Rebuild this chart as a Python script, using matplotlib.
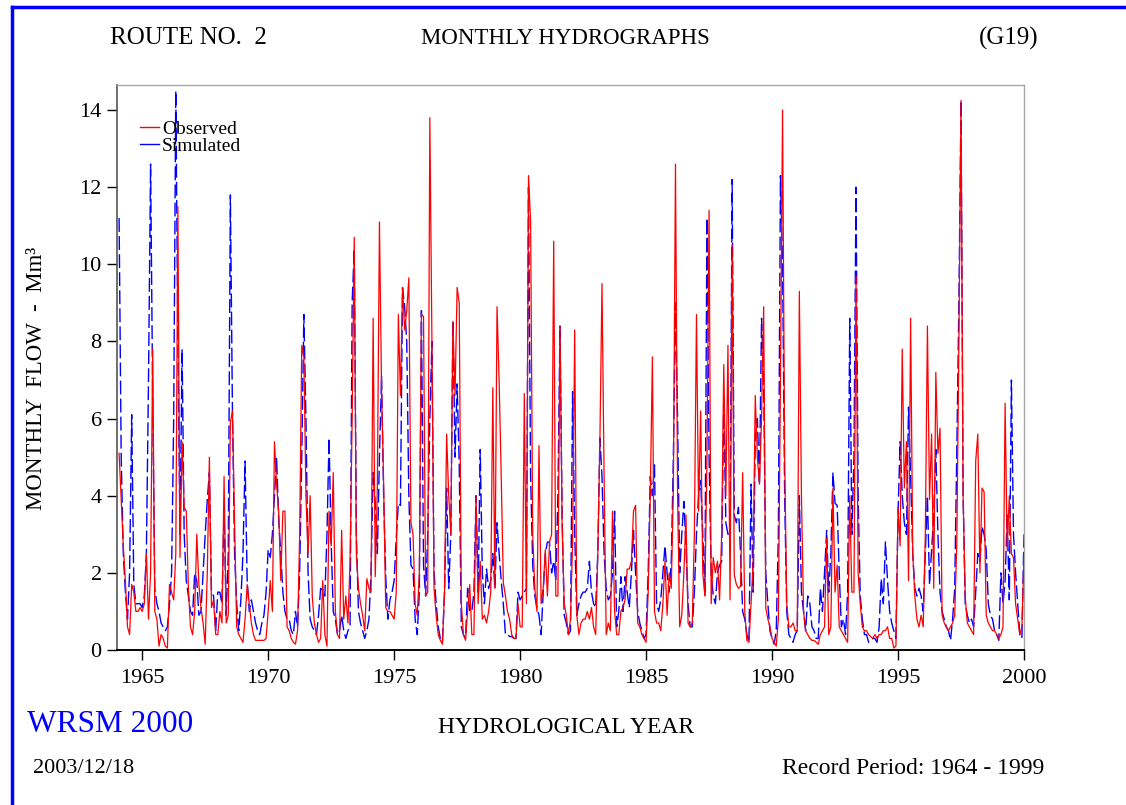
import numpy as np
import matplotlib
matplotlib.use("Agg")
import matplotlib.pyplot as plt
from matplotlib.lines import Line2D

# ---------------- data (hydrological years Oct-Sep, monthly flow in Mm3) ----------------
first_year = 1964
observed = [
    5.1, 3.9, 2.7, 1.8, 0.6, 0.4, 1.7, 1.5, 1.0, 1.0, 1.1, 1.0,      # 1964
    1.2, 2.5, 0.8, 2.0, 7.8, 1.0, 0.8, 0.1, 0.4, 0.3, 0.1, 0.05,     # 1965
    1.7, 1.5, 1.3, 2.5, 11.5, 2.4, 5.4, 3.7, 3.6, 1.6, 0.6, 0.4,     # 1966
    1.0, 3.0, 1.7, 1.1, 0.7, 0.15, 2.0, 5.0, 1.1, 1.3, 0.4, 0.4,     # 1967
    1.0, 0.7, 4.5, 0.7, 0.9, 5.9, 6.2, 3.3, 0.6, 0.4, 0.3, 0.2,      # 1968
    0.8, 1.7, 1.2, 0.7, 0.4, 0.25, 0.25, 0.25, 0.25, 0.25, 0.3, 1.0, # 1969
    1.8, 1.0, 5.4, 4.3, 3.6, 1.8, 3.6, 3.6, 0.6, 0.5, 0.3, 0.2,      # 1970
    0.15, 0.5, 3.0, 7.9, 7.6, 4.0, 2.5, 4.0, 1.4, 0.7, 0.4, 0.2,     # 1971
    0.3, 1.8, 0.4, 0.1, 3.6, 2.7, 4.6, 1.0, 0.4, 0.3, 3.1, 0.8,      # 1972
    1.4, 0.7, 2.3, 6.0, 10.7, 2.5, 1.6, 1.2, 0.9, 0.5, 1.85, 1.6,    # 1973
    1.5, 8.6, 1.9, 4.2, 11.1, 6.8, 4.3, 1.1, 1.0, 1.0, 0.9, 0.8,     # 1974
    1.5, 8.7, 6.6, 9.4, 8.3, 8.8, 9.65, 3.3, 3.0, 1.2, 0.9, 2.0,     # 1975
    8.7, 8.65, 1.4, 1.5, 13.8, 8.0, 1.6, 0.9, 0.4, 0.25, 0.15, 1.5,  # 1976
    5.6, 4.0, 3.0, 8.5, 6.6, 9.4, 9.0, 1.2, 0.4, 0.25, 1.0, 1.7,     # 1977
    0.4, 0.4, 4.0, 1.2, 2.3, 0.8, 0.9, 0.7, 1.0, 1.5, 6.8, 1.6,      # 1978
    8.9, 7.0, 4.5, 1.75, 1.4, 1.0, 0.8, 0.4, 0.3, 0.3, 1.2, 0.6,     # 1979
    0.6, 6.65, 1.2, 12.3, 11.1, 3.0, 1.6, 1.0, 5.3, 1.2, 1.6, 2.6,   # 1980
    1.4, 2.8, 3.0, 10.6, 1.4, 1.4, 8.4, 3.3, 1.2, 0.9, 0.4, 0.8,     # 1981
    2.8, 8.3, 0.9, 0.4, 0.7, 0.8, 0.8, 1.0, 0.8, 1.1, 0.6, 0.4,      # 1982
    2.5, 5.4, 9.5, 4.5, 0.4, 0.7, 0.5, 3.6, 1.0, 0.4, 0.4, 1.0,      # 1983
    1.1, 1.3, 2.1, 2.1, 2.3, 3.6, 3.75, 0.7, 0.6, 0.4, 0.3, 0.2,     # 1984
    1.5, 4.0, 7.6, 1.0, 0.7, 0.7, 0.5, 1.2, 2.3, 0.9, 2.0, 1.6,      # 1985
    4.2, 12.6, 4.0, 0.6, 0.9, 2.0, 3.5, 0.7, 0.6, 0.7, 3.0, 8.7,     # 1986
    3.6, 6.2, 2.0, 1.4, 5.0, 11.4, 1.2, 2.4, 2.0, 2.3, 1.3, 3.0,     # 1987
    7.4, 4.0, 7.9, 1.3, 10.5, 1.95, 1.7, 1.6, 1.65, 4.6, 1.0, 0.25,  # 1988
    0.2, 1.2, 2.3, 6.6, 5.0, 4.3, 6.0, 8.9, 1.1, 0.8, 0.6, 0.3,      # 1989
    0.2, 0.1, 0.8, 7.0, 14.0, 5.0, 1.2, 0.6, 0.6, 0.7, 0.5, 0.5,     # 1990
    9.3, 4.0, 1.0, 0.5, 0.4, 0.3, 0.25, 0.25, 0.2, 0.15, 0.4, 0.5,   # 1991
    0.6, 2.9, 0.4, 0.6, 4.2, 1.5, 2.2, 0.6, 0.5, 0.4, 0.3, 0.2,      # 1992
    4.0, 1.5, 1.5, 9.7, 2.0, 1.2, 0.6, 0.5, 0.5, 0.4, 0.35, 0.3,     # 1993
    0.4, 0.3, 0.4, 0.4, 0.5, 0.5, 0.6, 0.3, 0.3, 0.05, 0.1, 3.7,     # 1994
    2.7, 7.8, 4.2, 5.4, 1.8, 8.6, 2.5, 1.4, 0.8, 0.6, 0.9, 0.6,      # 1995
    3.0, 8.4, 3.9, 5.6, 1.6, 7.2, 5.1, 5.75, 0.9, 0.7, 0.6, 0.5,     # 1996
    0.6, 0.7, 0.9, 2.8, 8.0, 14.25, 4.0, 1.4, 0.7, 0.6, 0.5, 0.4,    # 1997
    4.9, 5.6, 2.0, 4.2, 4.1, 0.9, 0.7, 0.6, 0.5, 0.5, 0.4, 0.3,      # 1998
    0.4, 0.6, 6.4, 2.6, 4.0, 2.5, 2.4, 1.2, 0.8, 0.4, 0.6, 2.4,      # 1999
]
simulated = [
    11.2, 5.0, 2.5, 1.5, 0.8, 2.0, 6.1, 1.7, 1.2, 1.2, 1.2, 1.1,     # 1964
    1.4, 2.5, 7.0, 12.6, 6.5, 1.6, 1.2, 1.0, 0.7, 0.6, 0.5, 0.6,     # 1965
    1.2, 2.0, 6.0, 14.5, 8.0, 3.0, 7.8, 3.0, 1.8, 1.4, 1.0, 0.9,     # 1966
    2.0, 1.8, 0.9, 1.0, 2.0, 3.0, 3.9, 4.6, 1.5, 1.4, 0.5, 1.5,      # 1967
    1.5, 1.2, 3.7, 0.9, 2.5, 11.8, 6.1, 2.5, 1.2, 0.5, 1.3, 2.5,     # 1968
    4.9, 1.8, 1.0, 1.3, 1.0, 0.7, 0.5, 0.4, 0.7, 0.9, 1.5, 2.6,      # 1969
    2.4, 3.0, 4.0, 5.0, 3.4, 2.5, 1.5, 1.0, 0.8, 0.8, 0.5, 0.4,      # 1970
    1.0, 0.6, 2.0, 5.0, 8.7, 6.0, 2.0, 0.8, 0.6, 0.5, 0.4, 0.9,      # 1971
    1.6, 1.5, 1.4, 3.0, 5.5, 2.8, 1.0, 0.8, 0.4, 0.5, 0.9, 0.5,      # 1972
    0.3, 0.5, 0.6, 9.0, 10.4, 3.0, 1.0, 0.7, 0.5, 0.3, 0.5, 0.8,     # 1973
    2.0, 4.6, 3.8, 2.5, 5.0, 7.1, 4.0, 1.9, 0.8, 1.3, 1.5, 1.8,      # 1974
    2.9, 3.8, 3.75, 9.4, 8.9, 8.0, 4.0, 2.2, 2.1, 0.8, 0.4, 1.5,     # 1975
    8.8, 2.2, 1.4, 3.0, 6.0, 8.0, 2.0, 1.2, 0.6, 0.3, 0.2, 1.5,      # 1976
    4.2, 1.6, 3.0, 8.55, 5.0, 6.9, 4.8, 0.6, 0.4, 0.3, 1.6, 1.0,     # 1977
    1.0, 1.5, 4.0, 1.5, 5.2, 2.0, 1.2, 2.1, 1.6, 1.8, 2.5, 1.6,      # 1978
    3.3, 2.5, 1.8, 1.2, 0.4, 0.4, 0.35, 0.35, 0.3, 0.3, 1.5, 1.3,    # 1979
    1.4, 1.5, 1.6, 12.0, 4.5, 2.2, 1.4, 1.1, 0.9, 0.4, 1.5, 2.5,     # 1980
    2.8, 2.8, 2.0, 2.3, 1.8, 4.0, 8.4, 3.5, 0.9, 0.7, 0.4, 0.5,      # 1981
    6.7, 3.0, 0.9, 1.2, 1.4, 1.5, 1.5, 1.6, 2.3, 1.5, 1.2, 1.1,      # 1982
    2.5, 5.5, 4.5, 2.5, 1.6, 1.3, 1.4, 2.0, 3.6, 0.6, 1.0, 1.9,      # 1983
    1.0, 1.9, 1.5, 1.1, 2.0, 3.1, 2.0, 1.0, 0.7, 0.5, 0.3, 0.4,      # 1984
    2.0, 4.5, 4.0, 4.8, 1.2, 1.0, 1.3, 2.0, 2.7, 2.0, 1.5, 2.3,      # 1985
    5.0, 9.0, 6.0, 2.0, 3.0, 3.85, 2.7, 1.2, 0.6, 0.6, 1.5, 3.0,     # 1986
    4.0, 4.4, 3.0, 1.4, 11.2, 5.0, 2.0, 1.4, 1.2, 2.0, 2.2, 2.3,     # 1987
    6.4, 3.3, 3.0, 3.0, 12.2, 3.5, 3.3, 3.7, 2.5, 1.0, 0.8, 0.4,     # 1988
    0.2, 4.3, 1.5, 5.5, 6.0, 4.3, 8.6, 7.0, 2.0, 1.2, 0.5, 0.3,      # 1989
    0.15, 0.5, 3.0, 12.3, 10.0, 4.0, 1.0, 0.4, 0.3, 0.2, 0.4, 0.5,   # 1990
    4.0, 1.5, 1.0, 0.5, 1.4, 1.2, 0.6, 0.5, 0.3, 0.3, 1.6, 1.0,      # 1991
    2.0, 3.1, 1.5, 2.5, 4.6, 3.8, 3.75, 2.0, 0.6, 0.8, 0.4, 1.5,     # 1992
    8.6, 3.0, 5.0, 12.0, 4.0, 1.4, 0.8, 0.4, 0.4, 0.2, 0.25, 0.3,    # 1993
    0.3, 0.2, 0.6, 1.85, 1.2, 2.8, 1.8, 1.0, 0.7, 0.5, 0.3, 3.5,     # 1994
    5.4, 4.0, 3.3, 3.0, 6.3, 4.5, 2.5, 1.6, 1.4, 1.6, 1.4, 1.0,      # 1995
    2.5, 4.0, 1.7, 2.6, 3.5, 5.2, 3.0, 1.5, 1.0, 0.8, 0.6, 0.5,      # 1996
    0.25, 0.8, 1.6, 5.2, 9.0, 14.25, 4.0, 1.2, 0.9, 0.7, 0.8, 0.6,   # 1997
    1.5, 2.5, 2.3, 3.2, 3.0, 2.6, 1.2, 0.9, 0.8, 0.5, 0.4, 0.25,     # 1998
    2.0, 1.2, 1.8, 3.5, 1.3, 7.0, 3.0, 2.0, 1.2, 0.4, 0.3, 3.0,      # 1999
]
x_ticks = [1965, 1970, 1975, 1980, 1985, 1990, 1995, 2000]
y_ticks = [0, 2, 4, 6, 8, 10, 12, 14]
series_labels = ["Observed", "Simulated"]

# ---------------- figure ----------------
plt.rcParams["font.family"] = ["Liberation Serif", "DejaVu Serif"]
W, H = 1126, 805
fig = plt.figure(figsize=(W / 100, H / 100), dpi=100)
fig.patch.set_facecolor("white")

def fx(px):
    return px / W

def fy(py):
    return 1 - py / H

ax = fig.add_axes([fx(117), fy(650), fx(1024) - fx(117), fy(85) - fy(650)])

t = first_year + (np.arange(len(observed)) + 1) / 12.0
ln_sim, = ax.plot(t, simulated, color="#0000ff", lw=1.0, dashes=(10, 3),
                  label=series_labels[1], zorder=2)
ln_obs, = ax.plot(t, observed, color="#ff0000", lw=0.9,
                  label=series_labels[0], zorder=3)

ax.set_xlim(1964, 2000)
ax.set_ylim(0, 14.65)
ax.set_xticks(x_ticks)
ax.set_yticks(y_ticks)
ax.tick_params(axis="both", direction="out", length=7, width=1, labelsize=16,
               colors="black")
ax.tick_params(axis="x", pad=7)
ax.tick_params(axis="y", pad=4)

for side in ("top", "right"):
    ax.spines[side].set_color("#a8a8a8")
    ax.spines[side].set_linewidth(1.0)
ax.spines["left"].set_color("#555555")
ax.spines["left"].set_linewidth(1.2)
ax.spines["bottom"].set_color("black")
ax.spines["bottom"].set_linewidth(1.4)

leg = ax.legend(handles=[ln_obs, ln_sim], labels=series_labels,
                loc="upper left", bbox_to_anchor=(0.025, 0.938),
                frameon=False, fontsize=14, handlelength=1.0,
                handletextpad=0.15, labelspacing=0.0, borderaxespad=0,
                borderpad=0)
for h in leg.legend_handles:
    h.set_linestyle("-")
    h.set_linewidth(1.0)

# ---------------- surrounding texts ----------------
fig.text(fx(110), fy(38), "ROUTE NO.  2", fontsize=18, ha="left", va="center")
fig.text(fx(565), fy(38), "MONTHLY HYDROGRAPHS", fontsize=16.5, ha="center", va="center")
fig.text(fx(1038), fy(38), "(G19)", fontsize=18, ha="right", va="center")
fig.text(fx(37), fy(378), "MONTHLY  FLOW  -  Mm³", fontsize=16.5, rotation=90,
         ha="center", va="center")
fig.text(fx(27), fy(724), "WRSM 2000", fontsize=22.5, color="#0000ff", ha="left", va="center")
fig.text(fx(566), fy(727), "HYDROLOGICAL YEAR", fontsize=17, ha="center", va="center")
fig.text(fx(33), fy(768), "2003/12/18", fontsize=16, ha="left", va="center")
fig.text(fx(1044), fy(768), "Record Period: 1964 - 1999", fontsize=17, ha="right", va="center")

# blue page frame (left and top edges)
fig.add_artist(Line2D([fx(12), fx(12)], [0, fy(7)], color="#0000ff", lw=2.5))
fig.add_artist(Line2D([fx(12), 1], [fy(7), fy(7)], color="#0000ff", lw=2.5))

fig.savefig("out.png", dpi=100, facecolor="white")
